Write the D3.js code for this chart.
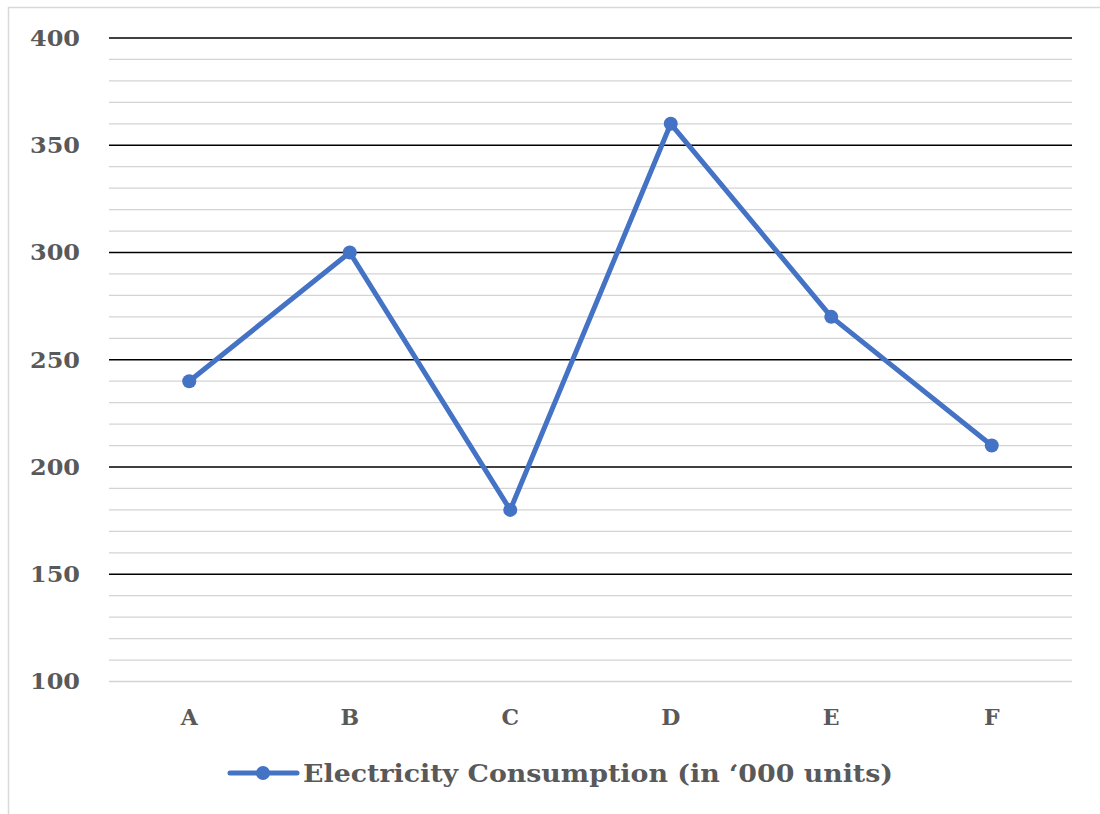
<!DOCTYPE html>
<html><head><meta charset="utf-8">
<script src="https://cdn.jsdelivr.net/npm/d3@7"></script>
<style>body{margin:0;background:#fff}</style>
</head><body>
<script>
const categories = ["A","B","C","D","E","F"];
const values = [240,300,180,360,270,210];
const yTicks = [100,150,200,250,300,350,400];
const seriesName = "Electricity Consumption (in \u2018000 units)";

const W=1100,H=814;
const svg=d3.select("body").append("svg").attr("width",W).attr("height",H);
svg.append("rect").attr("width",W).attr("height",H).attr("fill","#fff");
svg.append("rect").attr("x",8.5).attr("y",7.5).attr("width",1200).attr("height",1000)
  .attr("fill","none").attr("stroke","#d9d9d9").attr("stroke-width",1.5);

const font="'DejaVu Serif', 'Liberation Serif', serif";
const x=d3.scaleBand().domain(categories).range([109,1072]);
const y=d3.scaleLinear().domain([100,400]).range([681.5,38]);

const minor=d3.range(100,401,10).filter(v=>v%50!==0);
svg.append("g").selectAll("line").data(minor).join("line")
  .attr("x1",109).attr("x2",1072).attr("y1",d=>y(d)).attr("y2",d=>y(d))
  .attr("stroke","#d4d4d4").attr("stroke-width",1.3);
svg.append("g").selectAll("line").data(yTicks.filter(v=>v>100)).join("line")
  .attr("x1",109).attr("x2",1072).attr("y1",d=>y(d)).attr("y2",d=>y(d))
  .attr("stroke","#000").attr("stroke-width",1.3);
svg.append("line").attr("x1",109).attr("x2",1072).attr("y1",y(100)).attr("y2",y(100))
  .attr("stroke","#d4d4d4").attr("stroke-width",1.3);

svg.append("g").selectAll("text").data(yTicks).join("text")
  .attr("x",80).attr("y",d=>y(d)).attr("dy","0.36em").attr("text-anchor","end")
  .attr("font-family",font).attr("font-weight","bold").attr("font-size",22)
  .attr("fill","#595959").attr("textLength",50).attr("lengthAdjust","spacingAndGlyphs").text(d=>d);

svg.append("g").selectAll("text").data(categories).join("text")
  .attr("x",d=>x(d)+x.bandwidth()/2).attr("y",717).attr("dy","0.36em").attr("text-anchor","middle")
  .attr("font-family",font).attr("font-weight","bold").attr("font-size",22)
  .attr("fill","#595959").text(d=>d);

const color="#4472C4";
const line=d3.line().x((d,i)=>x(categories[i])+x.bandwidth()/2).y(d=>y(d));
svg.append("path").datum(values).attr("d",line).attr("fill","none")
  .attr("stroke",color).attr("stroke-width",5).attr("stroke-linejoin","round").attr("stroke-linecap","round");
svg.append("g").selectAll("circle").data(values).join("circle")
  .attr("cx",(d,i)=>x(categories[i])+x.bandwidth()/2).attr("cy",d=>y(d)).attr("r",7).attr("fill",color);

// legend
const ly=773;
svg.append("line").attr("x1",230).attr("x2",297).attr("y1",ly).attr("y2",ly)
  .attr("stroke",color).attr("stroke-width",5).attr("stroke-linecap","round");
svg.append("circle").attr("cx",263).attr("cy",ly).attr("r",7).attr("fill",color);
svg.append("text").attr("x",303).attr("y",ly).attr("dy","0.36em")
  .attr("font-family",font).attr("font-weight","bold").attr("font-size",24)
  .attr("fill","#595959").attr("textLength",590).attr("lengthAdjust","spacingAndGlyphs").text(seriesName);
</script>
</body></html>
